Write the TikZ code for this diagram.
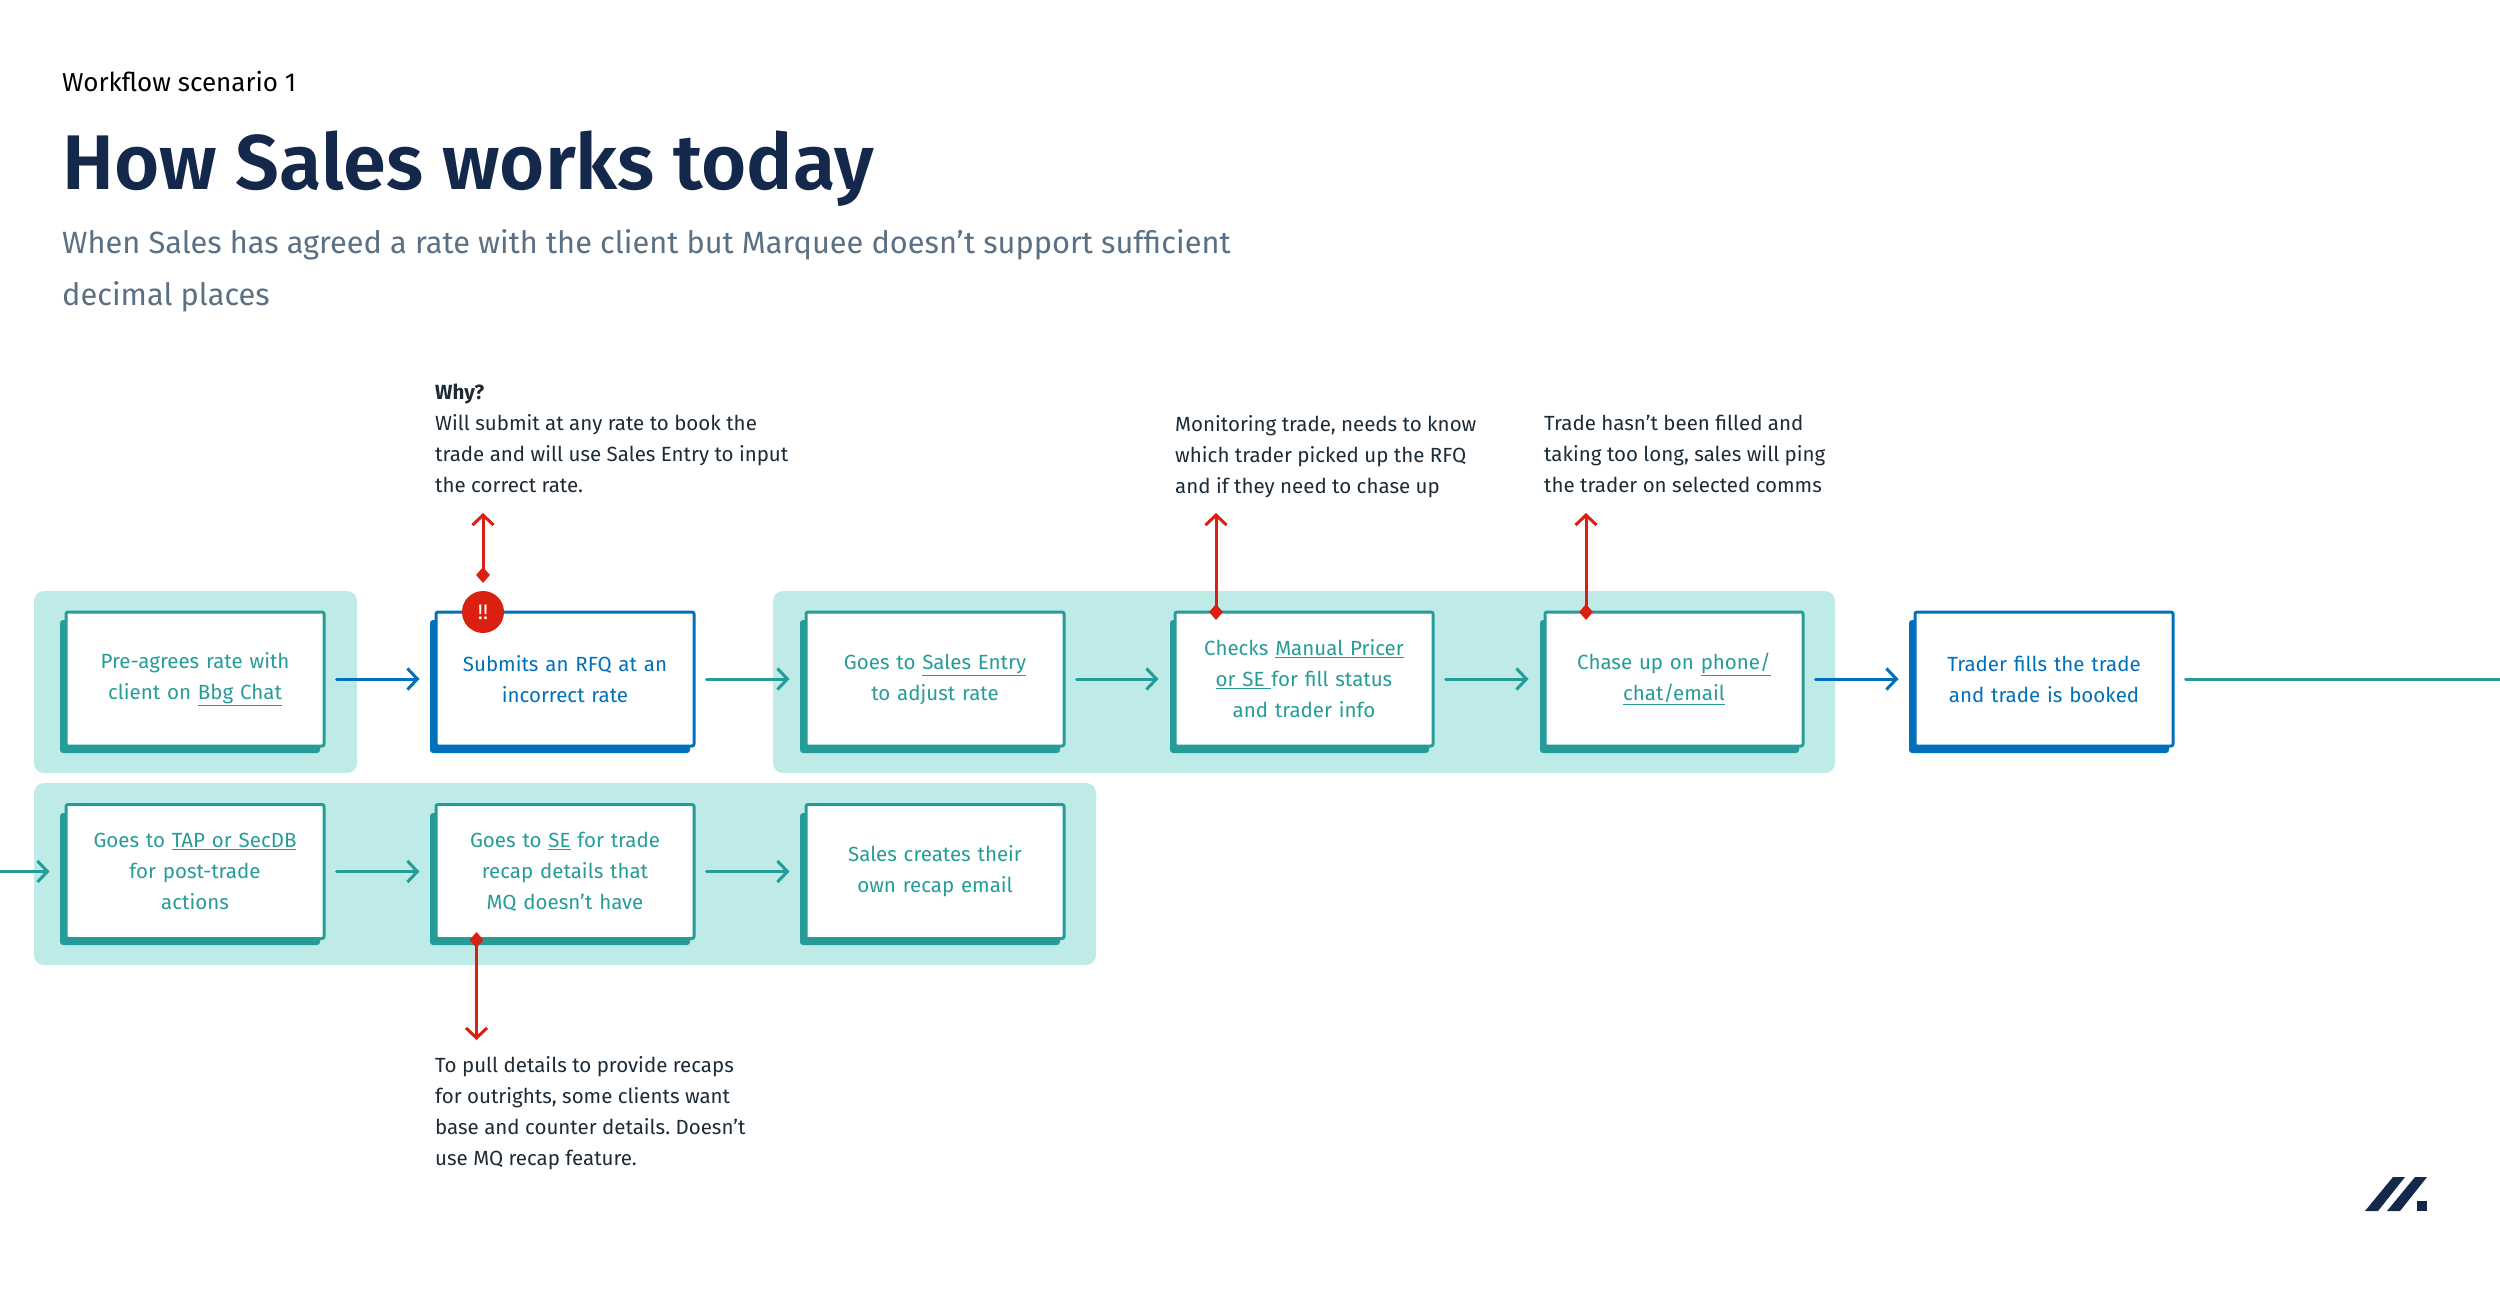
\documentclass[tikz,border=0pt]{standalone}
\usepackage{fontspec}
\setmainfont{Fira Sans}
\newfontfamily\titlefont{Fira Sans SemiBold}
\usepackage{xcolor}
\usetikzlibrary{arrows.meta,shapes.geometric}
\definecolor{navytitle}{HTML}{14284B}
\definecolor{slategrey}{HTML}{5A7085}
\definecolor{bodyink}{HTML}{1C2B36}
\definecolor{tealink}{HTML}{269C99}
\definecolor{bluelink}{HTML}{0070BA}
\definecolor{panelfill}{HTML}{BEEBE7}
\definecolor{alertred}{HTML}{DA2010}
\tikzset{
  panel/.style={fill=panelfill,rounded corners=10pt},
  stepbox/.style={draw=#1,line width=3pt,fill=white,rounded corners=2pt,text=#1,align=center,
    minimum width=258pt,minimum height=134pt,text width=240pt,font=\fontsize{20.5}{31}\selectfont,
    inner sep=0pt},
  boxshade/.style={fill=#1,rounded corners=3pt},
  flow/.style={draw=#1,line width=3pt,->},
  note/.style={anchor=north west,align=left,text=bodyink,inner sep=0pt,font=\fontsize{20.5}{31}\selectfont},
  pin/.style={diamond,fill=alertred,inner sep=0pt,minimum width=14pt,minimum height=16pt},
  redline/.style={alertred,line width=3pt,->}
}
\begin{document}
\frenchspacing
\begin{tikzpicture}[line cap=round,line join=round,x=1pt,y=-1pt,>={Straight Barb[length=10pt,width=21pt]}]
    \useasboundingbox (0,0) rectangle (2500,1289);
    \fill [white] (0,0) rectangle (2500,1289);
    % headings
    \node [anchor=base west,inner sep=0pt,text=black,font=\fontsize{26}{30}\selectfont] (kicker) at (62,92) {Workflow scenario 1};
    \node [anchor=base west,inner sep=0pt,text=navytitle,font=\fontsize{77.5}{90}\titlefont] (title) at (62,190) {How Sales works today};
    \node [anchor=north west,inner sep=0pt,text=slategrey,align=left,font=\fontsize{30.75}{52}\selectfont] (subtitle) at (62,229) {When Sales has agreed a rate with the client but Marquee doesn't support sufficient\\decimal places};
    % panels
    \fill [panel] (34,591) rectangle (357,773);
    \fill [panel] (773,591) rectangle (1835,773);
    \fill [panel] (34,783) rectangle (1096,965);
    % shadows
    \fill [boxshade=tealink] (60,620) rectangle (320,753);
    \fill [boxshade=bluelink] (430,620) rectangle (690,753);
    \fill [boxshade=tealink] (800,620) rectangle (1060,753);
    \fill [boxshade=tealink] (1170,620) rectangle (1429,753);
    \fill [boxshade=tealink] (1540,620) rectangle (1799,753);
    \fill [boxshade=bluelink] (1909,620) rectangle (2169,753);
    \fill [boxshade=tealink] (60,813) rectangle (320,945);
    \fill [boxshade=tealink] (430,813) rectangle (690,945);
    \fill [boxshade=tealink] (800,813) rectangle (1060,945);
    % boxes, first row
    \node [stepbox=tealink] (agree) at (195,679) {Pre-agrees rate with\\client on \underline{Bbg Chat}};
    \node [stepbox=bluelink] (submit) at (565,679) {Submits an RFQ at an\\incorrect rate};
    \node [stepbox=tealink] (entry) at (935,679) {Goes to \underline{Sales Entry}\\to adjust rate};
    \node [stepbox=tealink] (checks) at (1304,679) {Checks \underline{Manual Pricer}\\\underline{or SE\ }for fill status\\and trader info};
    \node [stepbox=tealink] (chase) at (1674,679) {Chase up on \underline{phone/}\\\underline{chat/email}};
    \node [stepbox=bluelink] (fills) at (2044,679) {Trader fills the trade\\and trade is booked};
    % boxes, second row
    \node [stepbox=tealink] (post) at (195,871.5) {Goes to \underline{TAP or SecDB}\\for post-trade\\actions};
    \node [stepbox=tealink] (recap) at (565,871.5) {Goes to \underline{SE} for trade\\recap details that\\MQ doesn't have};
    \node [stepbox=tealink] (email) at (935,871.5) {Sales creates their\\own recap email};
    % flow
    \coordinate (offright) at (2500,679);
    \coordinate (offleft) at (0,871.5);
    \draw [flow=bluelink] ([xshift=11pt]agree.east) -- ([xshift=-15pt]submit.west);
    \draw [flow=tealink] ([xshift=11pt]submit.east) -- ([xshift=-15pt]entry.west);
    \draw [flow=tealink] ([xshift=11pt]entry.east) -- ([xshift=-15pt]checks.west);
    \draw [flow=tealink] ([xshift=11pt]checks.east) -- ([xshift=-15pt]chase.west);
    \draw [flow=bluelink] ([xshift=11pt]chase.east) -- ([xshift=-15pt]fills.west);
    \draw [draw=tealink,line width=3pt] ([xshift=11pt]fills.east) -- (offright);
    \draw [flow=tealink] (offleft) -- ([xshift=-15pt]post.west);
    \draw [flow=tealink] ([xshift=11pt]post.east) -- ([xshift=-15pt]recap.west);
    \draw [flow=tealink] ([xshift=11pt]recap.east) -- ([xshift=-15pt]email.west);
    % notes
    \node [note] (whynote) at (435,384) {\textbf{Why?}\\Will submit at any rate to book the\\trade and will use Sales Entry to input\\the correct rate.};
    \node [note] (monitor) at (1175,415) {Monitoring trade, needs to know\\which trader picked up the RFQ\\and if they need to chase up};
    \node [note] (filled) at (1544,415) {Trade hasn't been filled and\\taking too long, sales will ping\\the trader on selected comms};
    \node [note] (pull) at (435,1056) {To pull details to provide recaps\\for outrights, some clients want\\base and counter details. Doesn't\\use MQ recap feature.};
    % red markers
    \node [pin] (pinsubmit) at (483,575) {};
    \node [pin] (pinchecks) at (1216,612) {};
    \node [pin] (pinchase) at (1586,612) {};
    \node [pin] (pinrecap) at (476.5,940) {};
    \coordinate (tipsubmit) at (483,513);
    \coordinate (tipchecks) at (1216,513);
    \coordinate (tipchase) at (1586,513);
    \coordinate (tiprecap) at (476.5,1040);
    \draw [redline] (pinsubmit.center) -- (tipsubmit);
    \draw [redline] (pinchecks.center) -- (tipchecks);
    \draw [redline] (pinchase.center) -- (tipchase);
    \draw [redline] (pinrecap.center) -- (tiprecap);
    \node [circle,fill=alertred,text=white,inner sep=0pt,minimum size=42pt,font=\fontsize{21}{21}\selectfont] (alert) at (483,612) {!!};
    % logo
    \fill [navytitle] (2365,1211) -- (2393,1177) -- (2405,1177) -- (2378,1211) -- cycle;
    \fill [navytitle] (2387,1211) -- (2415,1177) -- (2427,1177) -- (2400,1211) -- cycle;
    \fill [navytitle] (2417,1201) rectangle (2427,1211);
\end{tikzpicture}
\end{document}
